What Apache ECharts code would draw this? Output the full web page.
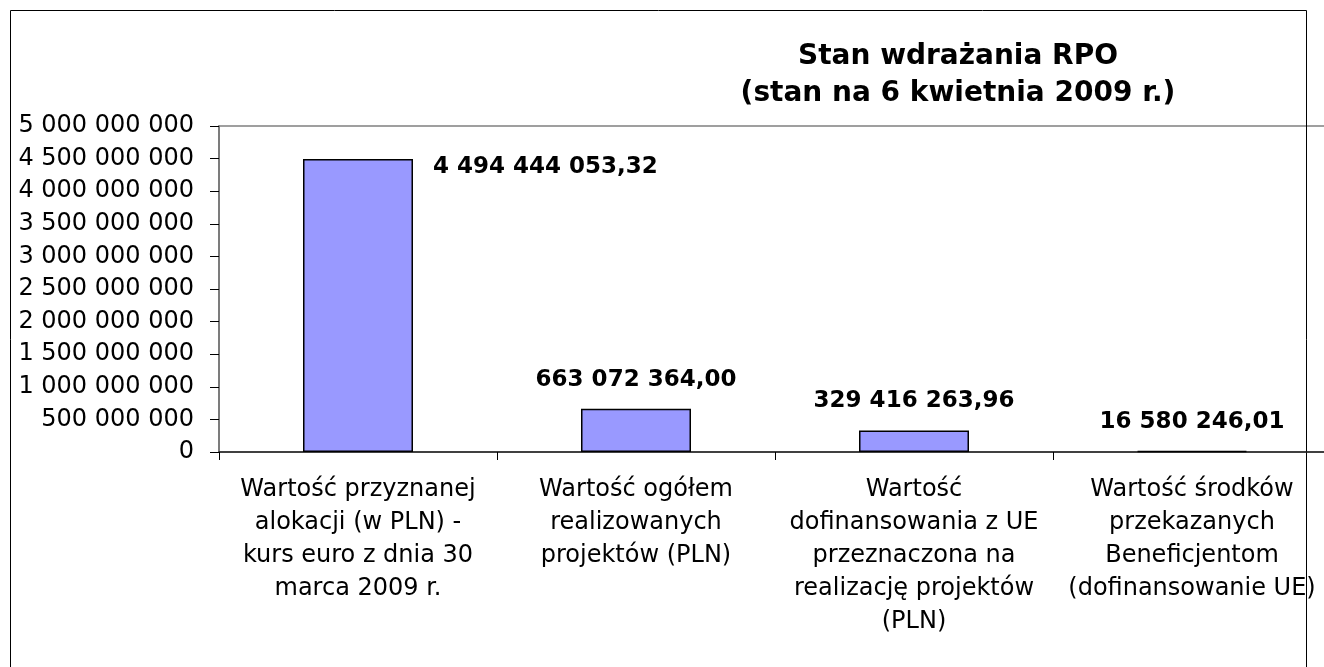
<!DOCTYPE html>
<html>
<head>
<meta charset="utf-8">
<script src="https://cdn.jsdelivr.net/npm/echarts@6/dist/echarts.min.js"></script>
<style>
  html, body { margin: 0; padding: 0; background: #fff; }
  #main { width: 1324px; height: 667px; }
</style>
</head>
<body>
<div id="main"></div>
<script>
// dane wykresu
const categories = [
  'Wartość przyznanej\nalokacji (w PLN) -\nkurs euro z dnia 30\nmarca 2009 r.',
  'Wartość ogółem\nrealizowanych\nprojektów (PLN)',
  'Wartość\ndofinansowania z UE\nprzeznaczona na\nrealizację projektów\n(PLN)',
  'Wartość środków\nprzekazanych\nBeneficjentom\n(dofinansowanie UE)'
];
const values = [4494444053.32, 663072364.00, 329416263.96, 16580246.01];
const yMin = 0;
const yMax = 5000000000;
const yStep = 500000000;

const FONT = 'DejaVu Sans';

// 1234567.8 -> "1 234 567,80"
function fmt(v, dec) {
  const s = dec ? v.toFixed(dec) : Math.round(v).toString();
  const parts = s.split('.');
  const intPart = parts[0].replace(/\B(?=(\d{3})+(?!\d))/g, ' ');
  return parts[1] ? intPart + ',' + parts[1] : intPart;
}

const chart = echarts.init(document.getElementById('main'));

const barData = values.map((v, i) => ({
  value: v,
  label: i === 0
    ? { position: [130, 8], align: 'left', verticalAlign: 'middle' }
    : { position: ['50%', -29], align: 'center', verticalAlign: 'middle' }
}));

const option = {
  backgroundColor: '#fff',
  animation: false,
  title: {
    text: 'Stan wdrażania RPO\n(stan na 6 kwietnia 2009 r.)',
    left: 953,
    top: 33,
    textAlign: 'center',
    textStyle: {
      fontFamily: FONT,
      fontSize: 28,
      fontWeight: 'bold',
      color: '#000',
      lineHeight: 37
    }
  },
  graphic: [{
    type: 'rect',
    shape: { x: 10.5, y: 10.5, width: 1296, height: 700 },
    style: { fill: 'none', stroke: '#000', lineWidth: 1 },
    silent: true
  }],
  grid: {
    left: 219,
    top: 126,
    width: 1112,
    height: 326,
    show: true,
    borderColor: '#808080',
    borderWidth: 1.5,
    outerBoundsMode: 'none',
    containLabel: false
  },
  xAxis: {
    type: 'category',
    data: categories,
    axisLine: { lineStyle: { color: '#222', width: 1.5 } },
    axisTick: { show: true, length: 8, lineStyle: { color: '#000' } },
    axisLabel: {
      interval: 0,
      margin: 21,
      fontFamily: FONT,
      fontSize: 24,
      lineHeight: 33,
      color: '#000',
      align: 'center'
    },
    splitLine: { show: false }
  },
  yAxis: {
    type: 'value',
    min: yMin,
    max: yMax,
    interval: yStep,
    axisLine: { show: true, lineStyle: { color: '#707070', width: 1.5 } },
    axisTick: { show: true, length: 9, lineStyle: { color: '#000' } },
    axisLabel: {
      margin: 25,
      fontFamily: FONT,
      fontSize: 24,
      color: '#000',
      formatter: v => fmt(v, 0)
    },
    splitLine: { show: false }
  },
  series: [{
    type: 'bar',
    data: barData,
    barWidth: 110,
    itemStyle: { color: '#9999FF', borderColor: '#000', borderWidth: 1.5 },
    label: {
      show: true,
      fontFamily: FONT,
      fontSize: 23,
      fontWeight: 'bold',
      color: '#000',
      formatter: p => fmt(p.value, 2)
    }
  }]
};

chart.setOption(option);
</script>
</body>
</html>
